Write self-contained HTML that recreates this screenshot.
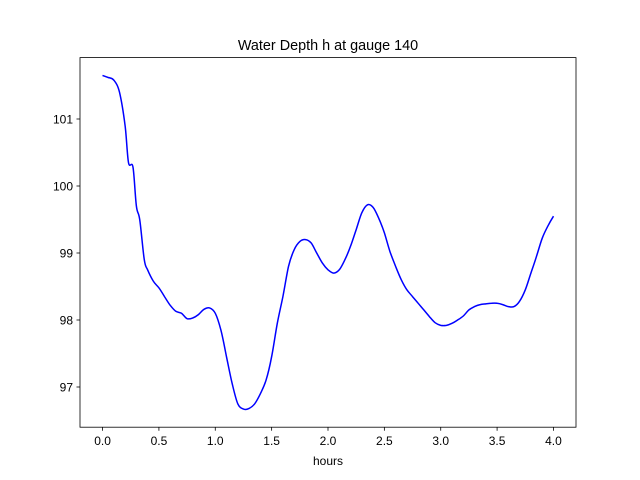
<!DOCTYPE html>
<html><head><meta charset="utf-8"><style>
body{margin:0;background:#fff}
svg{display:block;font-family:"Liberation Sans","DejaVu Sans",sans-serif}
</style></head><body>
<svg id="chart" width="640" height="480" viewBox="0 0 640 480">
<rect width="640" height="480" fill="#fff"/>
<text x="328" y="50" font-size="14.4" text-anchor="middle">Water Depth h at gauge 140</text>
<g id="ticks"></g>
<path id="line" fill="none" stroke="#0000ff" stroke-width="1.5" stroke-linejoin="round"/>
<rect x="80" y="57.6" width="496" height="369.6" fill="none" stroke="#000" stroke-width="0.8"/>
<text x="328" y="465" font-size="12" text-anchor="middle">hours</text>
</svg>
<script>
const hours=[0,0.05,0.1,0.15,0.2,0.23,0.27,0.3,0.33,0.37,0.4,0.45,0.5,0.55,0.6,0.65,0.7,0.75,0.8,0.85,0.9,0.95,1.0,1.05,1.1,1.15,1.2,1.25,1.3,1.35,1.4,1.45,1.5,1.55,1.6,1.65,1.7,1.75,1.8,1.85,1.9,1.95,2.0,2.05,2.1,2.15,2.2,2.25,2.3,2.35,2.4,2.45,2.5,2.55,2.6,2.65,2.7,2.75,2.8,2.85,2.9,2.95,3.0,3.05,3.1,3.15,3.2,3.25,3.3,3.35,3.4,3.45,3.5,3.55,3.6,3.65,3.7,3.75,3.8,3.85,3.9,3.95,4.0];
const depth=[101.65,101.62,101.58,101.4,100.9,100.35,100.28,99.7,99.5,98.9,98.75,98.58,98.48,98.35,98.22,98.13,98.1,98.02,98.03,98.08,98.16,98.18,98.1,97.85,97.45,97.05,96.75,96.67,96.68,96.75,96.9,97.1,97.45,97.95,98.35,98.8,99.05,99.17,99.2,99.15,99.0,98.85,98.75,98.7,98.75,98.9,99.1,99.35,99.6,99.72,99.68,99.52,99.3,99.02,98.8,98.6,98.45,98.35,98.25,98.15,98.05,97.96,97.92,97.92,97.95,98.0,98.06,98.15,98.2,98.23,98.24,98.25,98.25,98.23,98.2,98.2,98.28,98.45,98.7,98.95,99.22,99.4,99.55];
const xTicks=[0,0.5,1,1.5,2,2.5,3,3.5,4];
const xTickLabels=["0.0","0.5","1.0","1.5","2.0","2.5","3.0","3.5","4.0"];
const yTicks=[97,98,99,100,101];
const yTickLabels=["97","98","99","100","101"];
const X=v=>80+(v+0.2)/4.4*496;
const Y=v=>119+(101-v)*67;
const NS="http://www.w3.org/2000/svg";
const g=document.getElementById('ticks');
function mk(tag,attrs){const e=document.createElementNS(NS,tag);for(const k in attrs)e.setAttribute(k,attrs[k]);return e;}
xTicks.forEach((t,i)=>{
 const l=mk('line',{x1:X(t),x2:X(t),y1:427.2,y2:430.7,stroke:'#000','stroke-width':0.8});
 
 
 g.appendChild(l);
 const tx=mk('text',{x:X(t),y:445,'font-size':12,'text-anchor':'middle'});
 
 
 tx.textContent=xTickLabels[i];g.appendChild(tx);
});
yTicks.forEach((t,i)=>{
 const l=mk('line',{x1:76.5,x2:80,y1:Y(t),y2:Y(t),stroke:'#000','stroke-width':0.8});
 
 
 g.appendChild(l);
 const tx=mk('text',{x:73,y:Y(t)+4.5,'font-size':12,'text-anchor':'end'});
 
 
 tx.textContent=yTickLabels[i];g.appendChild(tx);
});
const pts=hours.map((h,i)=>[X(h),Y(depth[i])]);
let d='M'+pts[0][0].toFixed(1)+','+pts[0][1].toFixed(1);
for(let i=0;i<pts.length-1;i++){
 const p0=pts[Math.max(0,i-1)],p1=pts[i],p2=pts[i+1],p3=pts[Math.min(pts.length-1,i+2)];
 const c1=[p1[0]+(p2[0]-p0[0])/6,p1[1]+(p2[1]-p0[1])/6];
 const c2=[p2[0]-(p3[0]-p1[0])/6,p2[1]-(p3[1]-p1[1])/6];
 d+='C'+c1[0].toFixed(1)+','+c1[1].toFixed(1)+' '+c2[0].toFixed(1)+','+c2[1].toFixed(1)+' '+p2[0].toFixed(1)+','+p2[1].toFixed(1);
}
document.getElementById('line').setAttribute('d',d);
</script>
</body></html>
